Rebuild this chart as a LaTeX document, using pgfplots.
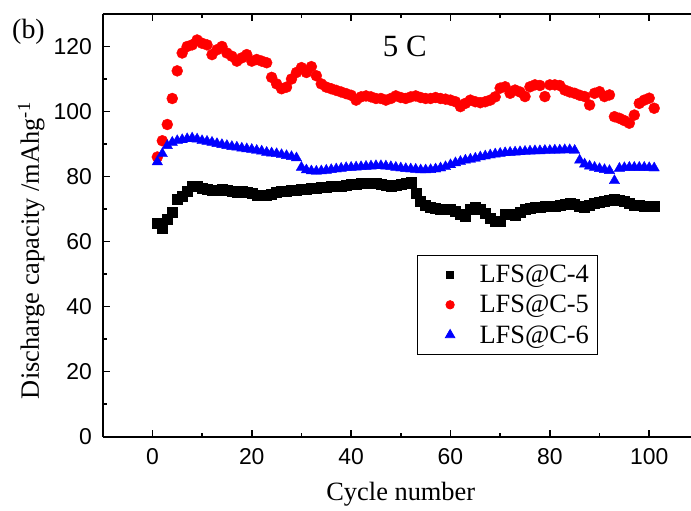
\documentclass[border=0pt]{standalone}
\usepackage{pgfplots}
\pgfplotsset{compat=1.18}
\usepackage{pgfplotstable}
\usepackage{fontspec}
\setmainfont{Liberation Serif}
\newfontfamily\arial{Liberation Sans}
\pgfplotsset{
  myleg/.style={legend image code/.code={\path (0bp,0bp) (53bp,0bp); \draw[##1, mark size=#1] plot coordinates {(24bp,0bp)};}}
}
\pgfplotstableread{
x black red blue
1 65.5 86 84.5
2 64 91 87
3 67 96 89.5
4 69 104 90.5
5 73 112.5 91
6 74 118 91.3
7 75.5 120 91.6
8 77 120.5 91.8
9 77 122 91.5
10 76.5 121 91
11 76 120.5 90.8
12 75.8 117.5 90.5
13 75.8 119 90.1
14 76 120 89.8
15 75.8 118 89.5
16 75.5 117 89.2
17 75.3 115.5 89
18 75.5 116.5 88.7
19 75.3 117.5 88.5
20 75 115.5 88.3
21 74.3 116 88
22 74.2 115.5 87.8
23 74.3 115 87.4
24 74.7 110.5 87.2
25 75.2 108.5 87
26 75.4 107 86.7
27 75.6 107.5 86.4
28 75.7 110 86.1
29 75.8 112 85.7
30 76 113.5 82.8
31 76.1 112 82
32 76.3 113.8 81.7
33 76.5 111 81.6
34 76.6 108.5 81.7
35 76.7 107.5 81.9
36 76.9 107 82.1
37 77 106.5 82.3
38 77.1 106 82.5
39 77.3 105.5 82.7
40 77.5 105 82.8
41 77.7 103.5 82.9
42 77.9 104.5 83
43 78 104.8 83.1
44 78 104.5 83.2
45 77.8 104 83.3
46 77.6 104 83.3
47 77.3 103.5 83.2
48 76.9 104 83
49 77.2 104.8 82.8
50 77.6 104.3 82.6
51 78 104 82.4
52 78.2 104.5 82.3
53 75 104.8 82.2
54 72.5 104.3 82
55 71.2 104 82
56 70.5 104 82.1
57 70.2 104.3 82.3
58 70 104 82.6
59 70 103.8 83
60 69.8 103.5 83.6
61 69.2 103 84.2
62 68.5 101.5 84.6
63 67.8 102.5 85
64 70 103.5 85.3
65 70.7 103 85.6
66 69.8 102.7 86
67 68.7 103 86.3
68 67.2 103.5 86.6
69 66.3 104.5 86.9
70 66.1 107.2 87.1
71 68.4 107.6 87.3
72 68.3 105.6 87.4
73 68.2 106.6 87.5
74 69 106 87.6
75 70 104.6 87.7
76 70.3 107.6 87.8
77 70.5 108.2 87.9
78 70.7 108 87.9
79 70.8 104.6 88
80 71 108.2 88
81 71 108.2 88.1
82 71.2 108 88.1
83 71.4 106.6 88.2
84 71.8 106 88.2
85 71.5 105.6 88
86 71 105 85
87 70.7 104.6 83.8
88 71.2 102 83.2
89 71.8 105.6 82.8
90 72.2 106.1 82.4
91 72.5 104.6 82.1
92 72.7 105.1 81.8
93 73 98.4 78.7
94 72.8 97.9 82.5
95 72.3 97.2 82.7
96 71.8 96.4 82.8
97 71.3 98.9 82.8
98 71.2 102.5 82.8
99 71 103.5 82.8
100 70.9 104.1 82.7
101 70.9 101 82.6
}\datatable
\begin{document}
\begin{tikzpicture}
\begin{axis}[
  name=ax,
  scale only axis,
  width=596.2bp, height=422.5bp,
  xmin=-10, xmax=110, ymin=0, ymax=130,
  axis x line*=box, axis y line*=left,
  xtick={0,20,...,100}, ytick={0,20,...,120},
  minor x tick num=1, minor y tick num=1,
  axis line style={line width=2bp},
  every tick/.style={black, line width=1.5bp},
  major tick length=7bp, minor tick length=4bp,
  /pgf/number format/assume math mode=true,
  tick label style={font=\arial\fontsize{23}{23}\selectfont, inner sep=0pt},
  yticklabel style={xshift=-10.7bp},
  xticklabel style={yshift=-11.5bp},
  xlabel={Cycle number},
  ylabel={Discharge capacity /mAhg\textsuperscript{-1}},
  label style={font=\fontsize{26.5}{26.5}\selectfont},
  xlabel style={at={(axis description cs:0.5,0)}, anchor=base, yshift=-63.5bp},
  ylabel style={at={([xshift=-63.7bp]axis description cs:0,0.44)}, anchor=base},
  legend style={at={(0.5277,0.4296)}, anchor=north west, draw=black, line width=0.8bp,
    font=\fontsize{26.5}{26.5}\selectfont, inner xsep=8bp, inner ysep=9.7bp,
    row sep=11.1bp, nodes={inner sep=0pt}},
  legend cell align=left,
]
\addplot[only marks, mark=square*, mark size=5bp, black, myleg=3.5bp]
  table[x=x, y=black] {\datatable};
\addlegendentry{LFS@C-4}
\addplot[only marks, mark=*, mark size=5.5bp, red, myleg=4.2bp]
  table[x=x, y=red] {\datatable};
\addlegendentry{LFS@C-5}
\addplot[only marks, mark=triangle*, mark size=6bp, blue, myleg=5.5bp]
  table[x=x, y=blue] {\datatable};
\addlegendentry{LFS@C-6}
\node[font=\fontsize{31}{31}\selectfont, anchor=base] at (axis cs:50.8,116.9) {5 C};
\end{axis}
\node[font=\fontsize{28}{28}\selectfont, anchor=center] at ([xshift=-74.2bp,yshift=404.5bp]ax.south west) {(b)};
\pgfresetboundingbox
\path ([xshift=-102.7bp,yshift=-74.5bp]ax.south west) rectangle ([xshift=588.3bp,yshift=436.5bp]ax.south west);
\end{tikzpicture}
\end{document}
